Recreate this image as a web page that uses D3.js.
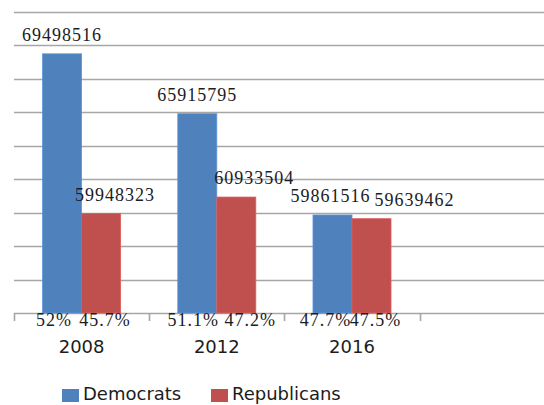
<!DOCTYPE html>
<html>
<head>
<meta charset="utf-8">
<script src="https://cdn.jsdelivr.net/npm/d3@7"></script>
<style>
  body { margin: 0; background: #fff; }
  svg { display: block; }
</style>
</head>
<body>
<svg id="chart" width="544" height="405"></svg>
<script>
// data
const years = ["2008", "2012", "2016"];
const parties = ["Democrats", "Republicans"];
const democrats = [69498516, 65915795, 59861516];
const republicans = [59948323, 60933504, 59639462];
const demShare = ["52%", "51.1%", "47.7%"];
const repShare = ["45.7%", "47.2%", "47.5%"];

// layout
const plotLeft = 14, plotTop = 12, baseline = 313, plotRight = 544;
const colors = { Democrats: "#4f81bd", Republicans: "#c0504d" };
// manual label nudges, like the hand-placed labels in the original
const valueNudge = { Democrats: [0, 0, -2], Republicans: [14, 18, 43] };
const shareNudge = { Democrats: [-8, -4, -7], Republicans: [4, 14, 4] };

const rows = years.map((yr, i) => ({
  year: yr,
  bars: [
    { party: "Democrats", value: democrats[i], share: demShare[i], i },
    { party: "Republicans", value: republicans[i], share: repShare[i], i }
  ]
}));

const svg = d3.select("#chart");

const x0 = d3.scaleBand()
  .domain(years)
  .range([plotLeft, plotLeft + 3 * 135.2]);

const x1 = d3.scaleBand()
  .domain(parties)
  .range([0, x0.bandwidth()])
  .paddingInner(0)
  .paddingOuter(0.733);

const y = d3.scaleLinear()
  .domain([54e6, 72e6])
  .range([baseline, plotTop]);

// gridlines
svg.append("g")
  .selectAll("line")
  .data(d3.range(56e6, 72e6 + 1, 2e6))
  .join("line")
  .attr("x1", plotLeft)
  .attr("x2", plotRight)
  .attr("y1", (d) => Math.round(y(d)) + 0.5)
  .attr("y2", (d) => Math.round(y(d)) + 0.5)
  .attr("stroke", "#a6a6a6")
  .attr("stroke-width", 1.6);

// x axis line + ticks at band edges
svg.append("line")
  .attr("x1", plotLeft).attr("x2", plotRight)
  .attr("y1", baseline + 0.5).attr("y2", baseline + 0.5)
  .attr("stroke", "#a6a6a6").attr("stroke-width", 1.6);

svg.append("g")
  .selectAll("line")
  .data(years.map((d) => x0(d)).concat([x0(years[2]) + x0.step()]))
  .join("line")
  .attr("x1", (d) => Math.round(d) + 0.5)
  .attr("x2", (d) => Math.round(d) + 0.5)
  .attr("y1", baseline)
  .attr("y2", baseline + 8)
  .attr("stroke", "#a6a6a6")
  .attr("stroke-width", 1.6);

// bars
const groups = svg.selectAll(".grp")
  .data(rows)
  .join("g")
  .attr("class", "grp")
  .attr("transform", (d) => `translate(${x0(d.year)},0)`);

groups.selectAll("rect")
  .data((d) => d.bars)
  .join("rect")
  .attr("x", (d) => x1(d.party))
  .attr("width", x1.bandwidth())
  .attr("y", (d) => y(d.value))
  .attr("height", (d) => baseline - y(d.value))
  .attr("fill", (d) => colors[d.party])
  .attr("stroke", (d) => d3.color(colors[d.party]).brighter(0.4))
  .attr("stroke-width", 0.8);

// value labels
groups.selectAll(".val")
  .data((d) => d.bars)
  .join("text")
  .attr("class", "val")
  .attr("x", (d) => x1(d.party) + x1.bandwidth() / 2 + valueNudge[d.party][d.i])
  .attr("y", (d) => y(d.value) - 13)
  .attr("text-anchor", "middle")
  .attr("font-family", "'Liberation Serif', 'Times New Roman', serif")
  .attr("font-size", 18)
  .attr("letter-spacing", 1)
  .attr("fill", "#1c1c24")
  .text((d) => d.value);

// share labels under bars
groups.selectAll(".share")
  .data((d) => d.bars)
  .join("text")
  .attr("class", "share")
  .attr("x", (d) => x1(d.party) + x1.bandwidth() / 2 + shareNudge[d.party][d.i])
  .attr("y", baseline + 13)
  .attr("text-anchor", "middle")
  .attr("font-family", "'Liberation Serif', 'Times New Roman', serif")
  .attr("font-size", 18)
  .attr("letter-spacing", 1)
  .attr("fill", "#1c1c24")
  .text((d) => d.share);

// year labels
svg.append("g")
  .selectAll("text")
  .data(years)
  .join("text")
  .attr("x", (d) => x0(d) + x0.bandwidth() / 2)
  .attr("y", 353)
  .attr("text-anchor", "middle")
  .attr("font-family", "'DejaVu Sans', sans-serif")
  .attr("font-size", 18)
  .attr("fill", "#1c1c1c")
  .text((d) => d);

// legend
const legendX = [62, 211];
const legend = svg.append("g")
  .selectAll("g")
  .data(parties)
  .join("g")
  .attr("transform", (d, i) => `translate(${legendX[i]},0)`);

legend.append("rect")
  .attr("x", 0).attr("y", 389)
  .attr("width", 17).attr("height", 13)
  .attr("fill", (d) => colors[d]);

legend.append("text")
  .attr("x", 21)
  .attr("y", 400)
  .attr("font-family", "'DejaVu Sans', sans-serif")
  .attr("font-size", 18)
  .attr("fill", "#1c1c1c")
  .text((d) => d);
</script>
</body>
</html>
